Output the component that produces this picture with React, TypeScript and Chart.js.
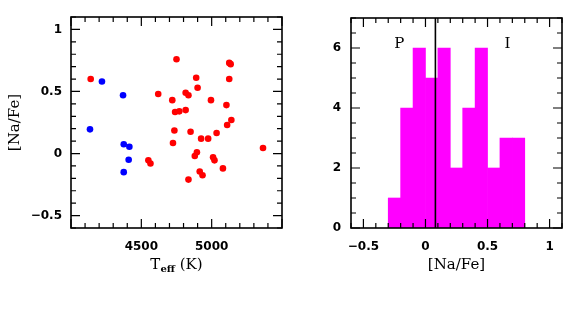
import React, { useEffect, useRef } from "react";
import { Chart, registerables } from "chart.js";
Chart.register(...registerables);

// ---------- data ----------
const redTeff = [4140, 4750, 5125, 5135, 5125, 4890, 4900, 4620, 4815, 4835, 4995, 4720, 5105, 4740, 4770, 4815, 5140, 5110, 4735, 4850, 4925, 4975, 5035, 4725, 5365, 4895, 4880, 5010, 5020, 4550, 4565, 5080, 4915, 4935, 4835];
const redNaFe = [0.6, 0.76, 0.73, 0.72, 0.6, 0.61, 0.53, 0.48, 0.49, 0.47, 0.43, 0.43, 0.39, 0.335, 0.34, 0.35, 0.27, 0.23, 0.185, 0.175, 0.12, 0.12, 0.165, 0.085, 0.045, 0.01, -0.02, -0.03, -0.055, -0.055, -0.08, -0.12, -0.145, -0.175, -0.21];
const blueTeff = [4220, 4370, 4135, 4375, 4415, 4410, 4375];
const blueNaFe = [0.58, 0.47, 0.195, 0.075, 0.055, -0.05, -0.15];

const binCenters = [-0.25, -0.15, -0.05, 0.05, 0.15, 0.25, 0.35, 0.45, 0.55, 0.65, 0.75];
const binCounts = [1, 4, 6, 5, 6, 2, 4, 6, 2, 3, 3];

const teffTicks = [4500, 5000];
const naFeTicks = [-0.5, 0, 0.5, 1];
const countTicks = [0, 2, 4, 6];

const dividerNaFe = 0.08;
const groupLabels = ["P", "I"];
const groupLabelX = [-0.21, 0.66];
const groupLabelY = 6;

// ---------- styling ----------
const TICK_FONT = { family: "'DejaVu Sans', sans-serif", size: 12, weight: "bold" as const };
const SERIF = "'DejaVu Serif', serif";

function fmt(v: number) {
  return String(v).replace("-", "\u2212");
}

type Spec = {
  xMinor: number; xMajor: number; yMinor: number; yMajor: number;
  extra?: (chart: any) => void;
  titles?: (chart: any) => void;
};

function framePlugin(spec: Spec) {
  return {
    id: "frameTicks",
    afterDatasetsDraw(chart: any) {
      const { ctx, chartArea: a, scales } = chart;
      const xs = scales.x, ys = scales.y;
      ctx.save();
      if (spec.extra) spec.extra(chart);
      ctx.strokeStyle = "#000";
      ctx.lineWidth = 1.2;
      ctx.beginPath();
      const each = (min: number, max: number, minor: number, major: number, fn: (v: number, len: number) => void) => {
        const n = Math.round((max - min) / minor);
        for (let i = 0; i <= n; i++) {
          const v = min + i * minor;
          const r = v / major;
          const isMajor = Math.abs(r - Math.round(r)) < 1e-6;
          fn(v, isMajor ? 9 : 5);
        }
      };
      each(xs.min, xs.max, spec.xMinor, spec.xMajor, (v, len) => {
        const px = xs.getPixelForValue(v);
        ctx.moveTo(px, a.bottom); ctx.lineTo(px, a.bottom - len);
        ctx.moveTo(px, a.top); ctx.lineTo(px, a.top + len);
      });
      each(ys.min, ys.max, spec.yMinor, spec.yMajor, (v, len) => {
        const py = ys.getPixelForValue(v);
        ctx.moveTo(a.left, py); ctx.lineTo(a.left + len, py);
        ctx.moveTo(a.right, py); ctx.lineTo(a.right - len, py);
      });
      ctx.stroke();
      ctx.lineWidth = 1.6;
      ctx.strokeRect(a.left, a.top, a.right - a.left, a.bottom - a.top);
      ctx.restore();
    },
    afterDraw(chart: any) {
      if (spec.titles) {
        chart.ctx.save();
        spec.titles(chart);
        chart.ctx.restore();
      }
    },
  };
}

function ScatterPanel() {
  const ref = useRef<HTMLCanvasElement>(null);
  useEffect(() => {
    const redPts = redTeff.map((t, i) => ({ x: t, y: redNaFe[i] }));
    const bluePts = blueTeff.map((t, i) => ({ x: t, y: blueNaFe[i] }));
    const chart = new Chart(ref.current!, {
      type: "scatter",
      data: {
        datasets: [
          { data: redPts, backgroundColor: "#ff0000", borderColor: "#ff0000", pointRadius: 3.3, borderWidth: 0 },
          { data: bluePts, backgroundColor: "#0000ff", borderColor: "#0000ff", pointRadius: 3.3, borderWidth: 0 },
        ],
      },
      options: {
        animation: false,
        responsive: false,
        layout: { padding: { top: 17, right: 28, bottom: 0, left: 0 } },
        plugins: { legend: { display: false }, tooltip: { enabled: false } },
        scales: {
          x: {
            type: "linear", min: 4000, max: 5500,
            grid: { display: false, drawTicks: false },
            border: { display: false },
            afterBuildTicks: (s: any) => { s.ticks = teffTicks.map((v) => ({ value: v })); },
            afterFit: (s: any) => { s.height = 90; },
            ticks: { font: TICK_FONT, color: "#000", padding: 12, maxRotation: 0, autoSkip: false, callback: (v: any) => fmt(Number(v)) },
          },
          y: {
            type: "linear", min: -0.6, max: 1.1,
            grid: { display: false, drawTicks: false },
            border: { display: false },
            afterBuildTicks: (s: any) => { s.ticks = naFeTicks.map((v) => ({ value: v })); },
            afterFit: (s: any) => { s.width = 71; },
            ticks: { font: TICK_FONT, color: "#000", padding: 9, autoSkip: false, callback: (v: any) => fmt(Number(v)) },
          },
        },
      },
      plugins: [
        framePlugin({
          xMinor: 100, xMajor: 500, yMinor: 0.1, yMajor: 0.5,
          titles: (c: any) => {
            const ctx = c.ctx;
            const a = c.chartArea;
            ctx.fillStyle = "#000";
            const big = `15px ${SERIF}`;
            const small = `bold 10px ${SERIF}`;
            ctx.font = big; const w1 = ctx.measureText("T").width;
            ctx.font = small; const w2 = ctx.measureText("eff").width;
            ctx.font = big; const w3 = ctx.measureText(" (K)").width;
            const cx = (a.left + a.right) / 2;
            let x0 = cx - (w1 + w2 + w3) / 2;
            const base = 269;
            ctx.textAlign = "left";
            ctx.textBaseline = "alphabetic";
            ctx.font = big; ctx.fillText("T", x0, base); x0 += w1;
            ctx.font = small; ctx.fillText("eff", x0, base + 3); x0 += w2;
            ctx.font = big; ctx.fillText(" (K)", x0, base);
            ctx.translate(15, (a.top + a.bottom) / 2);
            ctx.rotate(-Math.PI / 2);
            ctx.textAlign = "center";
            ctx.textBaseline = "middle";
            ctx.font = big;
            ctx.fillText("[Na/Fe]", 0, 0);
          },
        }),
      ],
    } as any);
    return () => chart.destroy();
  }, []);
  return <canvas ref={ref} width={310} height={318} style={{ position: "absolute", left: 0, top: 0 }} />;
}

function HistPanel() {
  const ref = useRef<HTMLCanvasElement>(null);
  useEffect(() => {
    const pts = binCenters.map((x, i) => ({ x, y: binCounts[i] }));
    const chart = new Chart(ref.current!, {
      type: "bar",
      data: {
        datasets: [
          { data: pts, backgroundColor: "#ff00ff", borderWidth: 0, barPercentage: 1, categoryPercentage: 1 },
        ],
      },
      options: {
        animation: false,
        responsive: false,
        layout: { padding: { top: 18, right: 12, bottom: 0, left: 0 } },
        plugins: { legend: { display: false }, tooltip: { enabled: false } },
        scales: {
          x: {
            type: "linear", min: -0.6, max: 1.1, offset: false,
            grid: { display: false, drawTicks: false, offset: false },
            border: { display: false },
            afterBuildTicks: (s: any) => { s.ticks = naFeTicks.map((v) => ({ value: v })); },
            afterFit: (s: any) => { s.height = 90; },
            ticks: { font: TICK_FONT, color: "#000", padding: 12, maxRotation: 0, autoSkip: false, callback: (v: any) => fmt(Number(v)) },
          },
          y: {
            type: "linear", min: 0, max: 7,
            grid: { display: false, drawTicks: false },
            border: { display: false },
            afterBuildTicks: (s: any) => { s.ticks = countTicks.map((v) => ({ value: v })); },
            afterFit: (s: any) => { s.width = 41; },
            ticks: { font: TICK_FONT, color: "#000", padding: 10, autoSkip: false, callback: (v: any) => fmt(Number(v)) },
          },
        },
      },
      plugins: [
        framePlugin({
          xMinor: 0.1, xMajor: 0.5, yMinor: 0.5, yMajor: 2,
          extra: (c: any) => {
            const ctx = c.ctx;
            const a = c.chartArea;
            const px = c.scales.x.getPixelForValue(dividerNaFe);
            ctx.strokeStyle = "#000";
            ctx.lineWidth = 1.6;
            ctx.beginPath();
            ctx.moveTo(px, a.top);
            ctx.lineTo(px, a.bottom);
            ctx.stroke();
            ctx.fillStyle = "#000";
            ctx.font = `15px ${SERIF}`;
            ctx.textAlign = "center";
            ctx.textBaseline = "alphabetic";
            groupLabels.forEach((t, i) => {
              ctx.fillText(t, c.scales.x.getPixelForValue(groupLabelX[i]), c.scales.y.getPixelForValue(groupLabelY));
            });
          },
          titles: (c: any) => {
            const ctx = c.ctx;
            const a = c.chartArea;
            ctx.fillStyle = "#000";
            ctx.font = `15px ${SERIF}`;
            ctx.textAlign = "center";
            ctx.textBaseline = "alphabetic";
            ctx.fillText("[Na/Fe]", (a.left + a.right) / 2, 269);
          },
        }),
      ],
    } as any);
    return () => chart.destroy();
  }, []);
  return <canvas ref={ref} width={264} height={318} style={{ position: "absolute", left: 310, top: 0 }} />;
}

export default function App() {
  return (
    <div style={{ position: "absolute", left: 0, top: 0, width: 574, height: 318, background: "#fff" }}>
      <ScatterPanel />
      <HistPanel />
    </div>
  );
}
